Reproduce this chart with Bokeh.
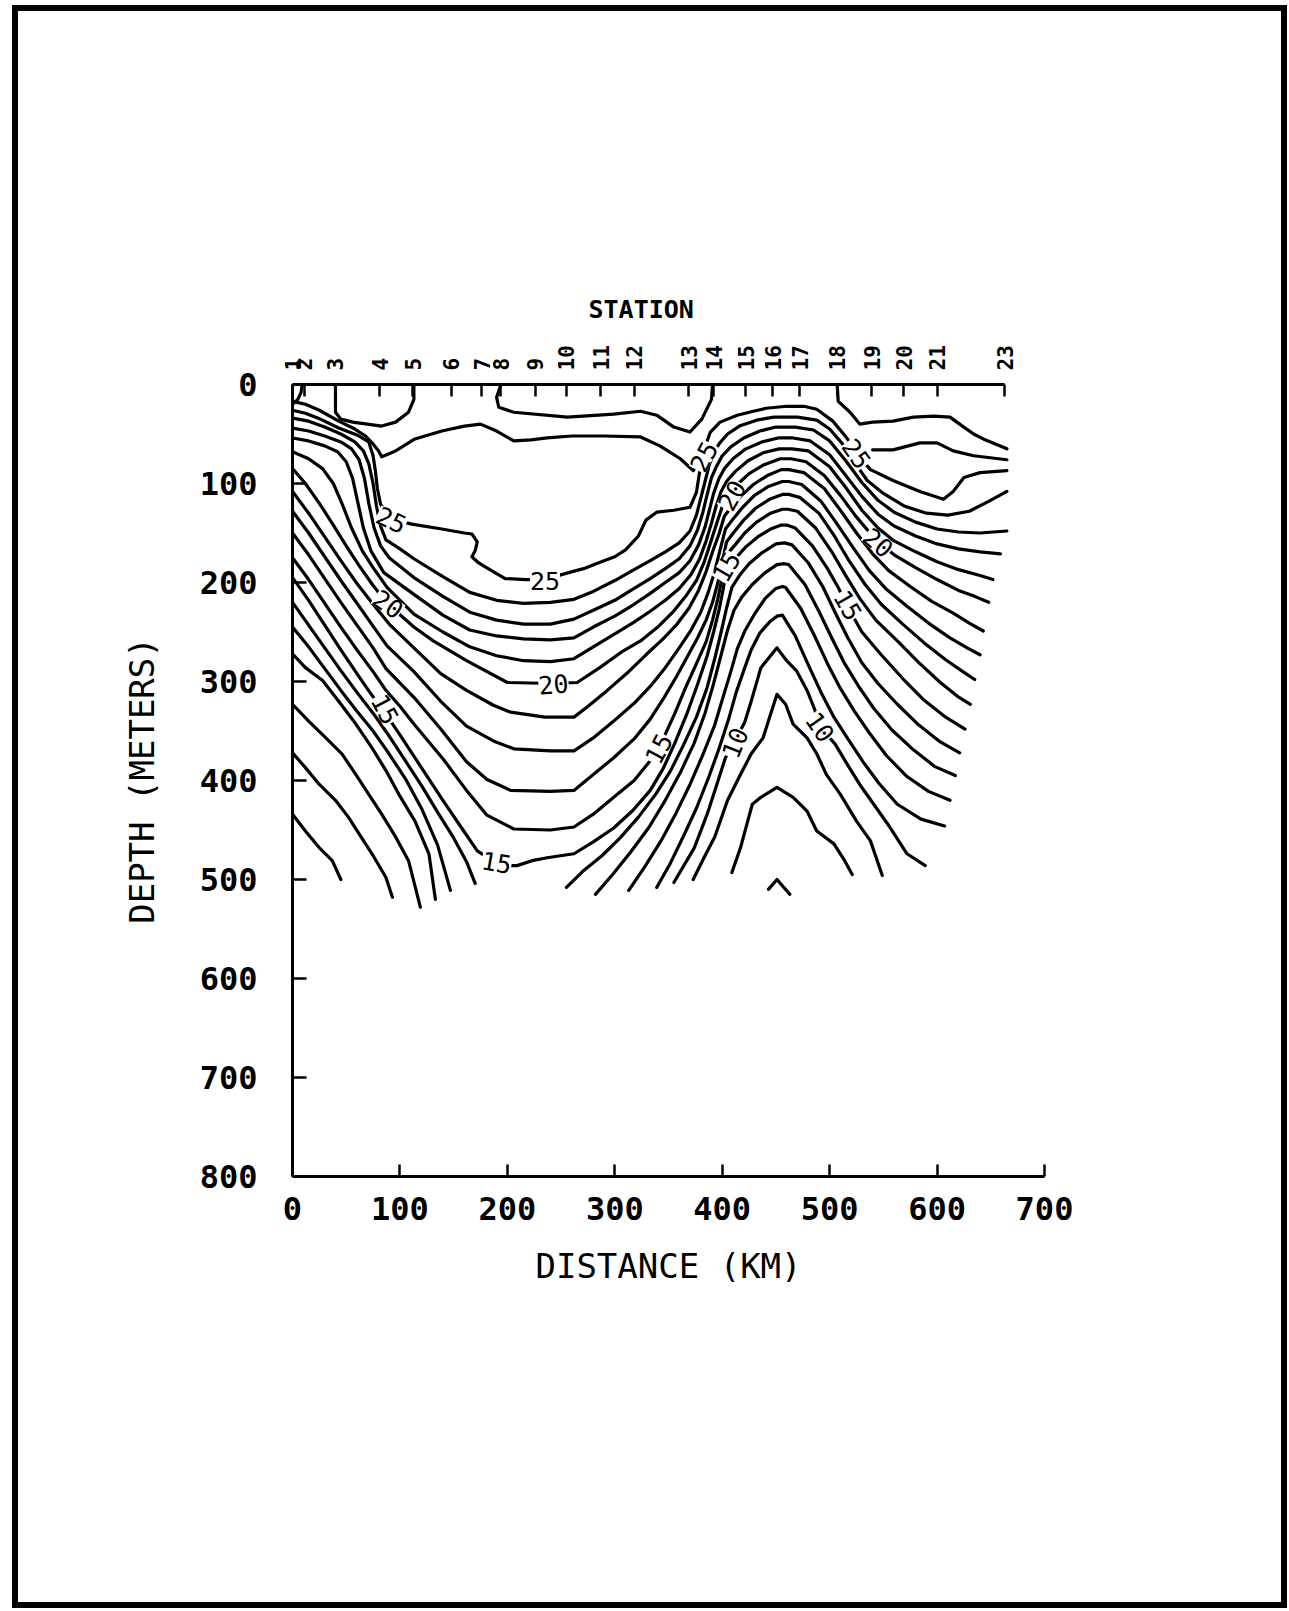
import math
from bokeh.plotting import figure
from bokeh.models import Range1d, LinearAxis, FixedTicker, ColumnDataSource
from bokeh.embed import file_html
from bokeh.resources import INLINE
from bokeh.core.properties import value

# ---------------- axes / stations ----------------
station_names = ["1", "2", "3", "4", "5", "6", "7", "8", "9", "10", "11", "12",
                 "13", "14", "15", "16", "17", "18", "19", "20", "21", "23"]
station_km = [0, 11, 40, 81, 112, 148, 176, 194, 226, 255, 287, 318,
              369, 392, 422, 447, 472, 507, 539, 569, 600, 663]
depth_ticks = [0, 100, 200, 300, 400, 500, 600, 700, 800]
distance_ticks = [0, 100, 200, 300, 400, 500, 600, 700]

# ---------------- isotherms (km, depth m) read from the section ----------------
iso_corner = [(9, 0), (8, 8), (5, 15), (0, 20)]
iso_surf_a = [(40, 0), (40, 28), (45, 35), (56, 38), (83, 42), (96, 38), (108, 28), (113, 15), (113, 0)]
iso_surf_b = [(194, 0), (190, 13), (192, 23), (206, 28), (256, 33), (299, 30), (324, 27), (339, 31),
              (355, 43), (370, 48), (381, 35), (390, 15), (391, 0)]
iso_right_1 = [(507, 0), (508, 17), (519, 28), (528, 40), (540, 38), (559, 37), (578, 33), (597, 32),
               (612, 33), (621, 40), (634, 50), (643, 55), (665, 65)]
iso_right_2 = [(540, 66), (559, 66), (584, 59), (600, 59), (615, 67), (634, 72), (665, 76)]
iso_25_upper = [(0, 17), (12, 20), (25, 26), (43, 37), (58, 45), (68, 52), (75, 60), (80, 67), (83, 73),
                (90, 70), (96, 67), (114, 55), (139, 47), (160, 42), (175, 40), (190, 47), (206, 57),
                (222, 56), (237, 54), (260, 52), (290, 52), (324, 53), (342, 62), (361, 75), (373, 87),
                (381, 72), (389, 48), (398, 38), (414, 31), (429, 27), (441, 24), (460, 22), (476, 22),
                (488, 25), (503, 37), (516, 54), (525, 70), (538, 86), (559, 97), (584, 108), (606, 116),
                (615, 108), (625, 94), (640, 89), (665, 87)]
iso_25_lower = [(0, 26), (12, 29), (24, 34), (43, 44), (60, 51), (71, 58), (75, 72), (77, 86), (79, 105),
                (82, 121), (89, 133), (100, 138), (111, 141), (139, 146), (160, 150), (167, 151), (172, 159),
                (170, 168), (167, 174), (173, 180), (179, 184), (190, 191), (198, 196), (217, 197), (235, 197),
                (257, 190), (271, 186), (285, 180), (300, 174), (310, 167), (322, 153), (329, 137), (339, 129),
                (355, 127), (370, 124), (376, 109), (378, 95), (380, 82)]
iso_24 = [(0, 34), (15, 37), (30, 43), (45, 50), (58, 58), (66, 67), (71, 80), (75, 100), (78, 122), (82, 143),
          (87, 157), (100, 166), (113, 176), (140, 194), (165, 210), (190, 218), (215, 221), (240, 220),
          (262, 217), (280, 209), (300, 198), (318, 187), (333, 178), (347, 169), (360, 160), (370, 148),
          (376, 132), (380, 115), (384, 98), (388, 81), (392, 70), (397, 60), (405, 50), (416, 42), (432, 36),
          (448, 33), (470, 33), (488, 36), (500, 45), (512, 60), (524, 80), (535, 97), (550, 110), (570, 123),
          (590, 130), (610, 132), (630, 128), (648, 118), (665, 108)]
iso_23 = [(0, 44), (15, 47), (30, 52), (45, 58), (55, 65), (62, 76), (67, 95), (71, 120), (76, 145), (82, 163),
          (90, 175), (113, 195), (140, 214), (165, 230), (190, 238), (215, 242), (240, 242), (262, 237),
          (280, 228), (300, 218), (318, 206), (333, 196), (347, 186), (360, 176), (370, 163), (377, 147),
          (382, 129), (386, 111), (390, 94), (395, 82), (400, 72), (408, 63), (420, 54), (435, 47), (450, 43),
          (468, 43), (485, 46), (500, 57), (515, 77), (530, 99), (545, 117), (560, 129), (580, 139), (600, 146),
          (620, 149), (640, 150), (665, 148)]
iso_22 = [(0, 54), (15, 57), (30, 62), (42, 68), (50, 78), (56, 95), (61, 120), (66, 145), (73, 168), (85, 190),
          (113, 212), (140, 233), (165, 248), (190, 254), (215, 257), (240, 258), (262, 256), (280, 245),
          (300, 234), (318, 222), (333, 211), (347, 200), (360, 190), (370, 178), (378, 162), (384, 144),
          (388, 127), (392, 110), (397, 95), (402, 85), (410, 75), (422, 65), (437, 58), (452, 54), (466, 54),
          (482, 57), (500, 71), (515, 92), (530, 113), (545, 131), (560, 143), (580, 153), (600, 161),
          (620, 166), (640, 169), (659, 171)]
iso_21 = [(0, 68), (15, 75), (28, 85), (38, 100), (46, 120), (55, 145), (65, 168), (75, 185), (88, 205),
          (113, 232), (140, 250), (165, 265), (190, 274), (215, 279), (240, 280), (262, 277), (280, 265),
          (300, 252), (318, 240), (333, 229), (347, 218), (360, 206), (371, 192), (379, 176), (385, 158),
          (390, 140), (394, 124), (399, 108), (404, 98), (412, 88), (424, 77), (438, 69), (453, 65), (465, 65),
          (480, 67), (500, 83), (515, 104), (530, 127), (545, 145), (560, 158), (580, 169), (600, 179),
          (620, 187), (640, 193), (652, 197)]
iso_20 = [(0, 85), (12, 100), (25, 120), (38, 142), (50, 163), (62, 183), (75, 203), (89, 222), (113, 245),
          (131, 259), (162, 279), (200, 301), (243, 302), (265, 301), (286, 286), (308, 269), (324, 259),
          (340, 245), (354, 230), (366, 214), (376, 198), (383, 180), (389, 160), (395, 140), (401, 120),
          (407, 111), (414, 101), (425, 90), (439, 81), (454, 75), (464, 75), (478, 78), (495, 92), (510, 112),
          (525, 134), (544, 158), (560, 172), (580, 185), (600, 197), (620, 208), (635, 214), (648, 220)]
iso_19 = [(0, 108), (15, 130), (30, 154), (45, 178), (60, 201), (75, 222), (90, 242), (113, 266), (138, 292),
          (162, 309), (187, 324), (203, 331), (235, 336), (262, 336), (274, 326), (293, 309), (311, 292),
          (330, 272), (345, 257), (358, 242), (369, 226), (378, 208), (385, 189), (391, 169), (397, 151),
          (402, 133), (409, 123), (418, 112), (429, 101), (442, 92), (455, 86), (462, 86), (476, 89), (495, 105),
          (510, 127), (525, 150), (540, 171), (555, 188), (575, 204), (595, 219), (615, 231), (630, 241),
          (643, 249)]
iso_18 = [(0, 128), (15, 150), (30, 174), (45, 198), (60, 221), (75, 244), (88, 264), (113, 290), (138, 320),
          (162, 345), (187, 360), (206, 368), (240, 370), (262, 370), (280, 357), (299, 340), (318, 322),
          (333, 305), (347, 286), (360, 266), (371, 248), (380, 230), (387, 210), (393, 189), (398, 167),
          (403, 146), (410, 136), (419, 124), (430, 112), (443, 103), (456, 98), (462, 98), (474, 101),
          (492, 118), (507, 141), (522, 165), (537, 188), (552, 206), (572, 224), (592, 241), (612, 256),
          (628, 266), (640, 273)]
iso_17 = [(0, 150), (15, 172), (30, 196), (45, 220), (60, 243), (75, 266), (87, 287), (113, 316), (138, 348),
          (162, 381), (181, 399), (203, 410), (240, 411), (262, 410), (280, 394), (299, 377), (318, 358),
          (333, 338), (346, 316), (358, 294), (368, 274), (377, 256), (385, 238), (391, 220), (396, 200),
          (400, 180), (404, 159), (411, 149), (420, 137), (431, 125), (444, 116), (456, 111), (462, 111),
          (472, 114), (490, 130), (505, 154), (518, 178), (533, 202), (548, 222), (568, 242), (588, 261),
          (608, 278), (624, 290), (635, 298)]
iso_16 = [(0, 175), (15, 197), (30, 221), (45, 245), (60, 268), (75, 290), (87, 309), (100, 325), (113, 343),
          (140, 378), (162, 410), (181, 435), (206, 449), (240, 450), (262, 447), (280, 434), (299, 417),
          (318, 400), (333, 380), (345, 358), (356, 332), (366, 306), (376, 282), (385, 260), (391, 238),
          (396, 216), (400, 195), (404, 172), (412, 162), (421, 150), (432, 139), (445, 130), (456, 126),
          (461, 126), (470, 128), (487, 145), (502, 169), (515, 193), (528, 216), (543, 238), (563, 259),
          (583, 281), (603, 301), (619, 315), (631, 323)]
iso_15 = [(0, 195), (15, 218), (30, 243), (45, 268), (60, 292), (72, 311), (85, 330), (100, 354), (120, 387),
          (140, 420), (160, 452), (172, 471), (186, 481), (200, 486), (209, 486), (223, 481), (237, 478),
          (262, 474), (280, 462), (299, 448), (317, 430), (333, 410), (345, 388), (356, 362), (367, 333),
          (377, 303), (386, 274), (392, 250), (397, 228), (401, 206), (404, 186), (412, 176), (422, 164),
          (433, 154), (445, 146), (455, 142), (460, 142), (468, 145), (484, 163), (498, 186), (508, 205),
          (517, 225), (530, 250), (548, 273), (568, 297), (588, 319), (608, 336), (626, 348)]
iso_14 = [(255, 508), (270, 492), (288, 476), (305, 458), (322, 437), (338, 414), (352, 390), (364, 364),
          (376, 336), (386, 306), (393, 277), (399, 250), (404, 226), (409, 205), (416, 193), (425, 181),
          (437, 170), (450, 161), (458, 160), (465, 162), (480, 180), (494, 205), (505, 230), (517, 256),
          (530, 281), (545, 302), (563, 323), (583, 344), (603, 361), (621, 372)]
iso_13 = [(282, 515), (298, 495), (315, 472), (332, 447), (347, 420), (361, 392), (374, 362), (384, 332),
          (392, 302), (399, 273), (405, 248), (411, 228), (418, 215), (428, 202), (440, 190), (451, 182),
          (458, 181), (462, 182), (477, 202), (490, 229), (502, 256), (514, 282), (527, 305), (541, 327),
          (558, 349), (578, 369), (598, 386), (617, 395)]
iso_12 = [(313, 511), (328, 487), (343, 461), (357, 433), (370, 404), (382, 374), (393, 344), (401, 315),
          (408, 290), (414, 267), (421, 249), (430, 232), (440, 216), (450, 206), (456, 204), (459, 205),
          (473, 226), (486, 254), (498, 282), (510, 307), (523, 330), (537, 352), (553, 375), (572, 396),
          (592, 411), (612, 420)]
iso_11 = [(339, 508), (352, 483), (364, 456), (376, 428), (387, 398), (397, 368), (406, 338), (413, 311),
          (420, 289), (427, 268), (435, 251), (444, 240), (451, 234), (456, 233), (468, 254), (480, 283),
          (492, 311), (504, 336), (517, 358), (531, 381), (546, 403), (563, 424), (585, 439), (607, 446)]
iso_10 = [(355, 503), (374, 468), (386, 434), (395, 404), (403, 377), (412, 360), (421, 341), (427, 320),
          (436, 286), (451, 266), (460, 279), (469, 289), (479, 309), (486, 328), (491, 346), (505, 363),
          (516, 383), (528, 404), (541, 424), (556, 447), (572, 474), (589, 486)]
iso_9 = [(373, 500), (383, 478), (393, 457), (405, 420), (417, 394), (427, 373), (438, 357), (445, 333),
         (451, 313), (459, 323), (466, 343), (479, 357), (488, 373), (497, 394), (510, 414), (525, 441),
         (538, 461), (549, 496)]
iso_8 = [(409, 493), (417, 468), (423, 444), (428, 424), (436, 417), (451, 407), (466, 417), (479, 431),
         (488, 451), (504, 464), (514, 481), (521, 495)]
iso_7 = [(443, 510), (451, 500), (463, 515)]
iso_b1 = [(0, 220), (15, 243), (30, 266), (45, 289), (60, 311), (75, 332), (88, 352), (105, 380), (120, 405),
          (135, 432), (150, 458), (162, 482), (170, 504)]
iso_b2 = [(0, 245), (15, 265), (30, 287), (45, 309), (60, 330), (75, 350), (88, 370), (105, 398), (120, 428),
          (135, 465), (147, 511)]
iso_b3 = [(0, 272), (12, 286), (28, 299), (43, 320), (59, 343), (74, 367), (87, 390), (99, 414), (114, 441),
          (127, 474), (133, 520)]
iso_b4 = [(0, 323), (15, 340), (31, 357), (46, 373), (59, 394), (71, 414), (83, 434), (96, 457), (108, 481),
          (119, 528)]
iso_b5 = [(0, 372), (12, 387), (25, 404), (40, 420), (52, 437), (62, 454), (74, 474), (87, 498), (93, 518)]
iso_b6 = [(0, 434), (12, 451), (25, 468), (37, 481), (45, 500)]

isotherms = [iso_corner, iso_surf_a, iso_surf_b, iso_right_1, iso_right_2, iso_25_upper, iso_25_lower,
             iso_24, iso_23, iso_22, iso_21, iso_20, iso_19, iso_18, iso_17, iso_16, iso_15,
             iso_14, iso_13, iso_12, iso_11, iso_10, iso_9, iso_8, iso_7,
             iso_b1, iso_b2, iso_b3, iso_b4, iso_b5, iso_b6]

# contour labels
label_text = ["25", "25", "20", "20", "15", "15", "15", "25", "20", "15", "25", "20", "15", "10", "10"]
label_km = [92, 235, 89, 243, 86, 190, 341, 383, 409, 404, 525, 545, 517, 412, 491]
label_depth = [137, 198, 222, 303, 328, 483, 368, 73, 112, 184, 70, 160, 223, 362, 346]
label_angle = [-25, 0, -35, 5, -62, -10, 62, 62, 60, 60, -55, -40, -60, 68, -55]

FONT = "DejaVu Sans Mono"

# canvas sits inside the page frame (offset 12, 5 px in the window)
p = figure(width=1275, height=1603, x_range=Range1d(0, 700), y_range=Range1d(800, 0),
           output_backend="svg", toolbar_location=None,
           min_border_left=280, min_border_right=243, min_border_top=379, min_border_bottom=432)
p.outline_line_color = None
p.grid.visible = False
p.background_fill_color = "white"
p.border_fill_color = None
# page frame drawn around the whole figure
p.styles = {"margin-left": "12px", "margin-top": "5px", "outline": "6px solid black",
            "outline-offset": "-6px", "background-color": "white"}

# "STATION" heading over the station axis
p.title.text = "STATION"
p.title.align = "left"
p.title.offset = 296
p.title.standoff = 38
p.title.text_font = FONT
p.title.text_font_size = "25px"
p.title.text_font_style = "bold"
p.title.text_color = "black"

src = ColumnDataSource(dict(xs=[[pt[0] for pt in ln] for ln in isotherms],
                            ys=[[pt[1] for pt in ln] for ln in isotherms]))
p.multi_line(xs="xs", ys="ys", source=src, line_color="black", line_width=3.2,
             line_join="round", line_cap="round")

lsrc = ColumnDataSource(dict(x=label_km, y=label_depth, text=label_text,
                             angle=[math.radians(a) for a in label_angle]))
p.text(x="x", y="y", text="text", angle="angle", source=lsrc, text_font=value(FONT),
       text_font_size="25px", text_align="center", text_baseline="middle", text_color="black",
       background_fill_color="white")


def style_axis(ax, tick_in, standoff, label_standoff, font_size, label_size):
    ax.major_tick_in = tick_in
    ax.major_tick_out = 0
    ax.minor_tick_in = 0
    ax.minor_tick_out = 0
    ax.axis_line_width = 3
    ax.axis_line_color = "black"
    ax.major_tick_line_width = 2.5
    ax.major_tick_line_color = "black"
    ax.major_label_text_font = FONT
    ax.major_label_text_font_style = "bold"
    ax.major_label_text_font_size = font_size
    ax.major_label_text_color = "black"
    ax.major_label_standoff = standoff
    ax.axis_label_text_font = FONT
    ax.axis_label_text_font_style = "normal"
    ax.axis_label_text_font_size = label_size
    ax.axis_label_text_color = "black"
    ax.axis_label_standoff = label_standoff


xa = p.xaxis[0]
xa.ticker = FixedTicker(ticks=distance_ticks)
xa.axis_label = "DISTANCE (KM)"
style_axis(xa, 12, 20, 23, "32px", "34px")

ya = p.yaxis[0]
ya.ticker = FixedTicker(ticks=depth_ticks)
ya.axis_label = "DEPTH (METERS)"
style_axis(ya, 14, 35, 35, "32px", "34px")

top = LinearAxis(ticker=FixedTicker(ticks=station_km),
                 major_label_overrides={k: n for k, n in zip(station_km, station_names)},
                 bounds=(0, 663), major_label_orientation=math.pi / 2)
style_axis(top, 12, 14, 0, "21px", "25px")
p.add_layout(top, "above")

open("out.html", "w").write(file_html(p, INLINE))
